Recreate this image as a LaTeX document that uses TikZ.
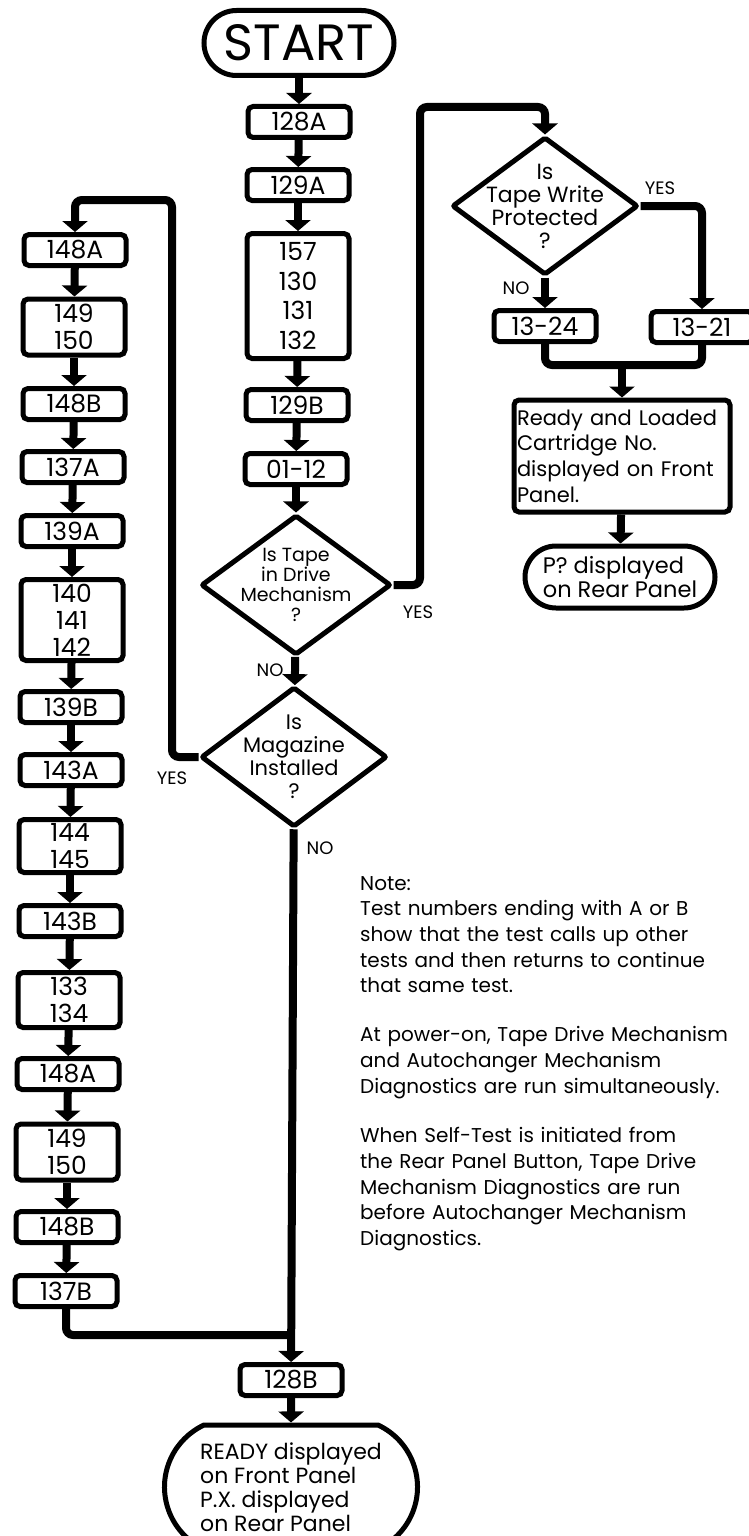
\documentclass[tikz,border=0pt]{standalone}
\usepackage{fontspec}
\setmainfont{Poppins}
\usepackage{tikz}
\usetikzlibrary{positioning,arrows.meta,shapes.geometric,shapes.misc}
\newcommand{\numfont}{\fontsize{25}{27}\selectfont}
\newcommand{\askfont}{\fontsize{19}{20}\selectfont}
\newcommand{\msgfont}{\fontsize{20}{25.7}\selectfont}
\newcommand{\tagfont}{\fontsize{18}{20}\selectfont}

\begin{document}
\begin{tikzpicture}[x=1pt,y=-1pt,
    test/.style={draw, line width=5pt, rounded corners=5pt, minimum width=102pt, minimum height=31pt, inner sep=0pt, align=center, font=\numfont},
    ask/.style={draw, diamond, line width=5pt, rounded corners=2pt, aspect=1.35, inner sep=-8pt, align=center, font=\askfont},
    term/.style={draw, rounded rectangle, line width=5pt, inner sep=0pt, align=left, font=\msgfont},
    msg/.style={draw, line width=5pt, rounded corners=5pt, inner sep=0pt, align=left, font=\msgfont},
    flow/.style={line width=8pt, rounded corners=7pt},
    go/.style={flow, -{Triangle[width=25pt,length=11pt]}},
    tag/.style={font=\tagfont, inner sep=0pt}]
  \useasboundingbox (0,0) rectangle (748,1536);

  % main column
  \node[term, minimum width=190pt, minimum height=65pt, font=\fontsize{51}{54}\selectfont] (start) at (299,43) {START};
  \node[test] (t128a) at (299,122) {128A};
  \node[test] (t129a) at (298,185) {129A};
  \node[test, minimum height=125pt, font=\fontsize{25}{29.5}\selectfont] (t157) at (298,296) {157\\130\\131\\132};
  \node[test] (t129b) at (297,405) {129B};
  \node[test] (t0112) at (296,469) {01-12};
  \node[ask, minimum width=190pt, minimum height=140pt] (tapein) at (296,585) {Is Tape\\in Drive\\Mechanism\\?};
  \node[ask, minimum width=186pt, minimum height=140pt, font=\fontsize{21}{23}\selectfont, inner sep=-12pt] (magazine) at (294,757) {Is\\Magazine\\Installed\\?};
  \node[test] (t128b) at (291,1380) {128B};
  \node[term, rounded rectangle arc length=130, minimum width=253pt, minimum height=124pt, font=\fontsize{22}{24}\selectfont] (done) at (291,1487) {READY displayed\\on Front Panel\\P.X. displayed\\on Rear Panel};

  % left column
  \node[test] (l148a) at (75,250) {148A};
  \node[test, minimum height=56pt] (l149) at (74,327) {149\\150};
  \node[test] (l148b) at (74,404) {148B};
  \node[test] (l137a) at (73,467) {137A};
  \node[test] (l139a) at (72,531) {139A};
  \node[test, minimum height=81pt] (l140) at (72,620) {140\\141\\142};
  \node[test] (l139b) at (71,707) {139B};
  \node[test] (l143a) at (71,770) {143A};
  \node[test, minimum height=53pt] (l144) at (70,846) {144\\145};
  \node[test] (l143b) at (70,921) {143B};
  \node[test, minimum height=55pt] (l133) at (69,1000) {133\\134};
  \node[test] (l148c) at (68,1074) {148A};
  \node[test, minimum height=56pt] (l149b) at (67,1152) {149\\150};
  \node[test] (l148d) at (67,1227) {148B};
  \node[test] (l137b) at (66,1291) {137B};

  % right column
  \node[ask, minimum width=186pt, minimum height=138pt, font=\fontsize{22}{23}\selectfont, inner sep=-14pt] (protect) at (545,206) {Is\\Tape Write\\Protected\\?};
  \node[test] (t1324) at (545,326) {13-24};
  \node[test] (t1321) at (702,327) {13-21};
  \node[msg, minimum width=216pt, minimum height=112pt, text width=210pt, inner xsep=3pt, font=\fontsize{21}{25.7}\selectfont] (ready) at (622,456) {Ready and Loaded\\Cartridge No.\\displayed on Front\\Panel.};
  \node[term, minimum width=190pt, minimum height=62pt, font=\fontsize{22.5}{24}\selectfont] (rear) at (620,577) {P? displayed\\on Rear Panel};

  \node[anchor=north west, inner sep=0pt, text width=390pt, align=left, font=\msgfont] (note) at (360,876) {Note:\\Test numbers ending with A or B\\show that the test calls up other\\tests and then returns to continue\\that same test.\\[23pt]At power-on, Tape Drive Mechanism\\and Autochanger Mechanism\\Diagnostics are run simultaneously.\\[24pt]When Self-Test is initiated from\\the Rear Panel Button, Tape Drive\\Mechanism Diagnostics are run\\before Autochanger Mechanism\\Diagnostics.};

  \node[tag] (yes1) at (418,612) {YES};
  \node[tag] (no1) at (270,670) {NO};
  \node[tag] (yes2) at (172,778) {YES};
  \node[tag] (no2) at (320,848) {NO};
  \node[tag] (yes3) at (660,188) {YES};
  \node[tag] (no3) at (516,288) {NO};

  \coordinate (upturn) at (420,107);
  \coordinate (leftturn) at (172,200);
  \coordinate (merge) at (622,365);
  \coordinate (join) at (291,1335);

  \foreach \a/\b in {start/t128a, t128a/t129a, t129a/t157, t157/t129b, t129b/t0112, t0112/tapein, tapein/magazine, magazine/t128b, t128b/done}
    \draw[go] (\a) -- (\b);
  \foreach \a/\b in {l148a/l149, l149/l148b, l148b/l137a, l137a/l139a, l139a/l140, l140/l139b, l139b/l143a, l143a/l144, l144/l143b, l143b/l133, l133/l148c, l148c/l149b, l149b/l148d, l148d/l137b}
    \draw[go] (\a) -- (\b);

  \draw[go] (tapein.east) -| (upturn) -| (protect.north);
  \draw[go] (protect.east) -| (t1321.north);
  \draw[go] (protect) -- (t1324);
  \draw[flow] (t1324.south) |- (merge) -| (t1321.south);
  \draw[go] (merge) -- (ready);
  \draw[go] (ready) -- (rear);
  \draw[go] (magazine.west) -| (leftturn) -| (l148a.north);
  \draw[flow] (l137b.south) |- (join);
\end{tikzpicture}
\end{document}
